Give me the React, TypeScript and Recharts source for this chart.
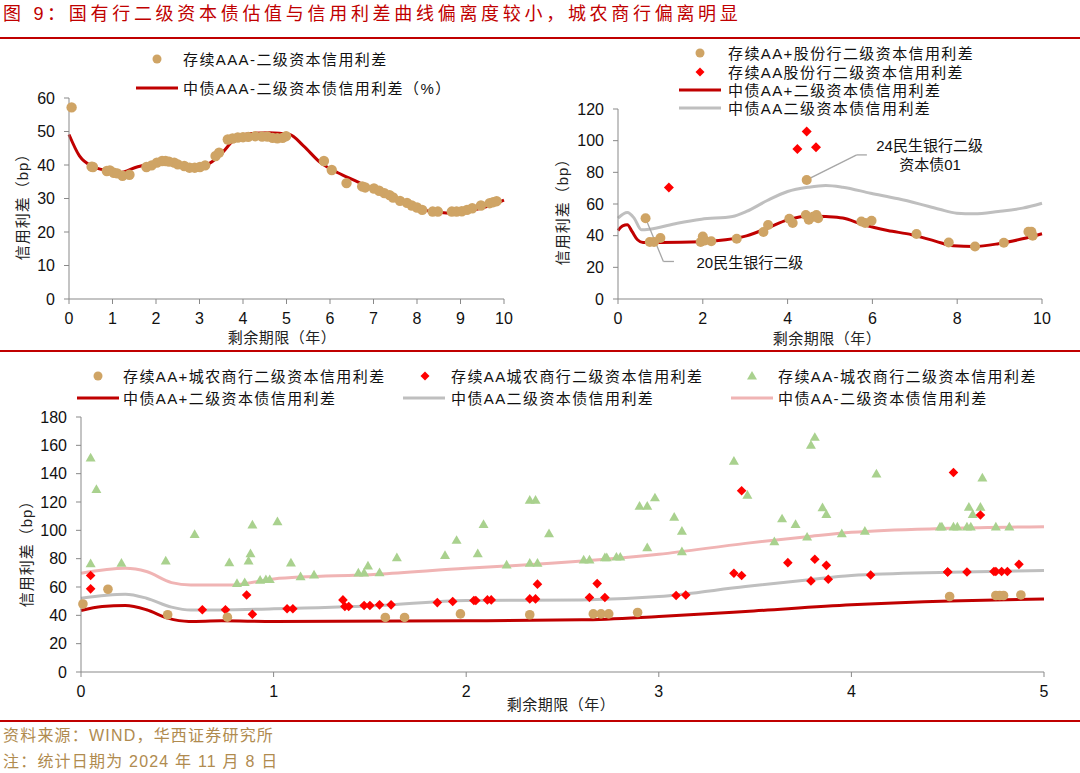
import React from "react"
import { ComposedChart, Line, Scatter, XAxis, YAxis, ReferenceLine, ReferenceDot } from "recharts"

type Pair = [number, number]

// 图一：国有行（AAA-）
const aaaCurve: Pair[] = [
  [0, 49.1], [0.24, 42.7], [0.52, 39.7], [0.95, 38.2], [1.15, 37.7], [1.58, 39.5], [1.82, 40.2],
  [2.14, 41.5], [2.46, 40.7], [2.85, 39.7], [3.17, 40.2], [3.49, 43.2], [3.8, 47.6], [4.12, 49.3],
  [4.6, 49.6], [5.07, 49.1], [5.39, 45.7], [5.78, 40.7], [6.18, 37.7], [6.66, 34.8], [7.13, 31.6],
  [7.6, 28.9], [8.0, 26.9], [8.4, 26.1], [8.72, 25.7], [9.11, 26.1], [9.51, 27.2], [10, 29.5],
]
const aaaBonds: Pair[] = [
  [0.06, 57.2], [0.52, 39.5], [0.55, 39.4], [0.87, 38.2], [0.94, 38.4], [1.03, 37.7], [1.11, 37.5],
  [1.23, 36.8], [1.39, 37.1], [1.78, 39.4], [1.9, 39.9], [2.02, 40.7], [2.14, 41.2], [2.22, 41.2],
  [2.3, 41], [2.42, 40.7], [2.5, 40.2], [2.65, 39.7], [2.77, 39.2], [2.89, 39.2], [3.01, 39.4],
  [3.13, 39.9], [3.37, 42.7], [3.45, 43.7], [3.65, 47.6], [3.76, 47.9], [3.88, 48.2], [4.0, 48.3],
  [4.12, 48.4], [4.28, 48.6], [4.44, 48.5], [4.56, 48.5], [4.68, 48.1], [4.79, 48], [4.91, 48.1],
  [4.99, 48.6], [5.86, 41.2], [6.04, 38.5], [6.38, 34.6], [6.74, 33.6], [6.81, 33.3], [7.01, 33],
  [7.13, 32.3], [7.25, 31.6], [7.37, 31], [7.45, 30.3], [7.61, 29.3], [7.77, 28.7], [7.88, 27.9],
  [8.0, 27.3], [8.12, 26.6], [8.36, 26.1], [8.48, 26.1], [8.8, 26.1], [8.91, 26.1], [9.03, 26.2],
  [9.15, 26.6], [9.27, 27.1], [9.47, 27.9], [9.67, 28.6], [9.75, 28.9], [9.83, 29.2],
]

// 图二：股份行
const jointAAPlusCurve: Pair[] = [
  [0, 43.3], [0.11, 46.2], [0.22, 46.9], [0.33, 42.7], [0.46, 37.4], [0.59, 35.7], [1.0, 35.7],
  [1.97, 36.1], [2.54, 37.4], [3.03, 39.9], [3.52, 44.8], [4.0, 50], [4.49, 52.5], [4.9, 52.1],
  [5.3, 51.1], [5.79, 46.9], [6.36, 43.3], [6.93, 40.6], [7.5, 36.4], [7.91, 33.6], [8.4, 33.2],
  [8.97, 34.9], [9.54, 38], [10, 41.2],
]
const jointAACurve: Pair[] = [
  [0, 51.1], [0.22, 54.6], [0.38, 51.1], [0.55, 43.7], [0.75, 44.1], [1.4, 47.9], [1.97, 50.4],
  [2.7, 52.1], [3.03, 55.3], [3.52, 62.2], [4.0, 67.9], [4.49, 70.6], [4.9, 71.7], [5.3, 70.6],
  [5.96, 66.8], [6.61, 63.3], [7.1, 60.1], [7.58, 56.7], [7.99, 54.2], [8.4, 53.8], [8.97, 55.3],
  [9.54, 57.4], [10, 60.5],
]
const jointAAPlusBonds: Pair[] = [
  [0.65, 51], [0.75, 36], [0.85, 36], [1.0, 38.5], [1.95, 36], [2.0, 39.5], [2.05, 37], [2.2, 36.5],
  [2.8, 38], [3.43, 42.3], [3.54, 46.7], [4.04, 50.7], [4.12, 48], [4.45, 75.2], [4.43, 53],
  [4.5, 50], [4.6, 52], [4.68, 53], [4.72, 51], [5.74, 49], [5.83, 48], [5.98, 49.4], [7.04, 41],
  [7.8, 35.7], [8.42, 33.2], [9.1, 35.5], [9.68, 42.5], [9.75, 42.5], [9.78, 40],
]
const jointAABonds: Pair[] = [[1.2, 70.4], [4.23, 94.8], [4.45, 105.8], [4.67, 95.9]]

// 图三：城农商行
const ruralAAPlusCurve: Pair[] = [
  [0, 43.4], [0.11, 46.2], [0.23, 46.9], [0.34, 43.9], [0.45, 38], [0.56, 35.7], [0.73, 36.1],
  [1.0, 35.7], [2.0, 36.1], [2.6, 36.8], [3.0, 39.2], [3.45, 42.7], [4.0, 47.4], [4.51, 50.2], [5.0, 51.6],
]
const ruralAACurve: Pair[] = [
  [0, 52.1], [0.23, 54.9], [0.34, 52.1], [0.47, 45.8], [0.57, 43.7], [1.0, 44.6], [1.54, 46.9],
  [2.0, 50.5], [2.6, 50.9], [3.0, 53.3], [3.45, 60.3], [3.77, 65], [4.0, 68.1], [4.51, 70.4], [5.0, 71.6],
]
const ruralAAMinusCurve: Pair[] = [
  [0, 69.7], [0.23, 73.2], [0.34, 70.9], [0.47, 63.1], [0.57, 61.5], [0.79, 61.5], [1.0, 65.7],
  [1.54, 69], [2.0, 73.2], [2.36, 76], [3.0, 83.1], [3.45, 90.8], [3.77, 95.5], [4.0, 98.6],
  [4.51, 101.4], [5.0, 102.6],
]
const ruralAAPlusBonds: Pair[] = [
  [0.01, 48], [0.14, 58.4], [0.45, 40.4], [0.76, 38.7], [1.58, 38.5], [1.68, 38.5], [1.97, 41],
  [2.33, 40.4], [2.66, 41], [2.7, 41], [2.74, 41], [2.89, 42], [4.51, 53.3], [4.75, 54], [4.77, 54],
  [4.79, 54], [4.88, 54.4],
]
const ruralAABonds: Pair[] = [
  [0.05, 68.1], [0.05, 58.7], [0.63, 43.9], [0.75, 43.9], [0.86, 54.4], [0.89, 40.8], [1.07, 44.6],
  [1.1, 44.6], [1.36, 50.9], [1.37, 46.2], [1.39, 46.2], [1.47, 46.9], [1.5, 46.9], [1.55, 47.4],
  [1.61, 47.4], [1.85, 49], [1.93, 49.8], [2.04, 50.5], [2.05, 50.5], [2.11, 50.9], [2.13, 50.9],
  [2.33, 51.6], [2.36, 51.6], [2.37, 62], [2.64, 52.6], [2.68, 62.4], [2.72, 52.6], [3.09, 54],
  [3.14, 54.4], [3.39, 69.7], [3.43, 68.1], [3.43, 127.9], [3.67, 77.2], [3.79, 64.3], [3.81, 79.6],
  [3.87, 75.3], [3.88, 65.5], [4.1, 68.5], [4.5, 70.6], [4.5, 70.6], [4.53, 140.8], [4.6, 70.6],
  [4.67, 110.8], [4.74, 70.9], [4.75, 70.9], [4.78, 70.9], [4.81, 70.9], [4.87, 76],
]
const ruralAAMinusBonds: Pair[] = [
  [0.05, 76], [0.05, 150.7], [0.08, 128.4], [0.21, 76.3], [0.44, 77.9], [0.59, 96.7], [0.77, 76.7],
  [0.81, 62], [0.85, 62.7], [0.87, 77.9], [0.88, 83], [0.89, 103.3], [0.93, 64.3], [0.96, 64.8],
  [0.98, 64.8], [1.02, 105.6], [1.09, 76.5], [1.14, 66.9], [1.21, 68.1], [1.44, 69.5], [1.47, 69.5],
  [1.49, 74.4], [1.55, 69.7], [1.64, 80.3], [1.89, 81.9], [1.95, 92.5], [2.06, 83.1], [2.09, 103.7],
  [2.21, 75.1], [2.33, 120.9], [2.36, 120.9], [2.33, 76.3], [2.37, 76.3], [2.43, 97.2], [2.61, 78.6],
  [2.64, 78.6], [2.72, 80.3], [2.73, 80.3], [2.78, 80.7], [2.8, 80.7], [2.9, 116.6], [2.94, 116.6],
  [2.98, 122.5], [2.94, 87.3], [3.08, 108.9], [3.12, 99], [3.12, 84.5], [3.39, 148.3], [3.46, 124.4],
  [3.6, 91.5], [3.64, 107.7], [3.71, 103.7], [3.77, 94.8], [3.79, 159.6], [3.81, 165.2], [3.85, 115.5],
  [3.87, 110.8], [3.95, 97.2], [4.07, 99], [4.13, 139.4], [4.46, 101.9], [4.47, 101.9], [4.53, 101.9],
  [4.55, 101.9], [4.61, 115.9], [4.6, 101.9], [4.62, 101.9], [4.63, 110.8], [4.67, 115.9],
  [4.68, 136.6], [4.75, 101.9], [4.82, 101.9],
]

const ticks10 = [0, 1, 2, 3, 4, 5, 6, 7, 8, 9, 10]
const ticksEven10 = [0, 2, 4, 6, 8, 10]
const ticks5 = [0, 1, 2, 3, 4, 5]
const yTicksA = [0, 10, 20, 30, 40, 50, 60]
const yTicksB = [0, 20, 40, 60, 80, 100, 120]
const yTicksC = [0, 20, 40, 60, 80, 100, 120, 140, 160, 180]

const TAN = "#CFA465"
const RED_LINE = "#C00000"
const GRAY_LINE = "#BFBFBF"
const PINK_LINE = "#F0B4B4"
const RED_DOT = "#FF0000"
const GREEN = "#A9D18E"
const AXIS = "#898989"
const CALLOUT = "#A6A6A6"
const NUM_FONT = "'Liberation Sans', Arial, sans-serif"
const CJK_FONT = "'Liberation Sans', 'Noto Sans CJK SC', sans-serif"

const toPts = (a: Pair[]) => a.map(([x, y]) => ({ x, y }))

const circle = (color: string, r: number) => (p: any) => <circle cx={p.cx} cy={p.cy} r={r} fill={color} />
const diamond = (color: string, s: number) => (p: any) => (
  <path d={`M${p.cx},${p.cy - s}L${p.cx + s},${p.cy}L${p.cx},${p.cy + s}L${p.cx - s},${p.cy}Z`} fill={color} />
)
const triangle = (color: string, w: number) => (p: any) => {
  const h = w * 0.87
  return <path d={`M${p.cx},${p.cy - (2 * h) / 3}L${p.cx + w / 2},${p.cy + h / 3}L${p.cx - w / 2},${p.cy + h / 3}Z`} fill={color} />
}

const tickStyle = { fill: "#111", fontSize: 16, fontFamily: NUM_FONT }

const axisProps = {
  tickSize: 5,
  tickMargin: 9,
  stroke: AXIS,
  tick: tickStyle,
  interval: 0 as const,
}

const curve = (data: Pair[], color: string) => (
  <Line data={toPts(data)} dataKey="y" type="monotone" stroke={color} strokeWidth={3} dot={false} activeDot={false} isAnimationActive={false} />
)

const legendText = { fontSize: 15, letterSpacing: 1.4, fontFamily: CJK_FONT, fill: "#111" }

const LegendMark = ({ kind, color, x, y }: { kind: string; color: string; x: number; y: number }) => {
  if (kind === "circle") return <circle cx={x} cy={y} r={4.5} fill={color} />
  if (kind === "diamond") return <path d={`M${x},${y - 4.5}L${x + 4.5},${y}L${x},${y + 4.5}L${x - 4.5},${y}Z`} fill={color} />
  if (kind === "triangle") return <path d={`M${x},${y - 5}L${x + 5},${y + 3.5}L${x - 5},${y + 3.5}Z`} fill={color} />
  return <line x1={x - 21} x2={x + 21} y1={y} y2={y} stroke={color} strokeWidth={3} />
}

const legends = [
  { kind: "circle", color: TAN, x: 157, y: 59, tx: 183, label: "存续AAA-二级资本信用利差" },
  { kind: "line", color: RED_LINE, x: 157, y: 88, tx: 183, label: "中债AAA-二级资本债信用利差（%）" },
  { kind: "circle", color: TAN, x: 700, y: 53, tx: 728, label: "存续AA+股份行二级资本信用利差" },
  { kind: "diamond", color: RED_DOT, x: 700, y: 72, tx: 728, label: "存续AA股份行二级资本信用利差" },
  { kind: "line", color: RED_LINE, x: 700, y: 90, tx: 728, label: "中债AA+二级资本债信用利差" },
  { kind: "line", color: GRAY_LINE, x: 700, y: 108, tx: 728, label: "中债AA二级资本债信用利差" },
  { kind: "circle", color: TAN, x: 98, y: 376, tx: 123, label: "存续AA+城农商行二级资本信用利差" },
  { kind: "diamond", color: RED_DOT, x: 425, y: 376, tx: 451, label: "存续AA城农商行二级资本信用利差" },
  { kind: "triangle", color: GREEN, x: 752, y: 376, tx: 778, label: "存续AA-城农商行二级资本信用利差" },
  { kind: "line", color: RED_LINE, x: 98, y: 398, tx: 123, label: "中债AA+二级资本债信用利差" },
  { kind: "line", color: GRAY_LINE, x: 424, y: 398, tx: 451, label: "中债AA二级资本债信用利差" },
  { kind: "line", color: PINK_LINE, x: 752, y: 398, tx: 778, label: "中债AA-二级资本债信用利差" },
]

const Overlay = () => (
  <svg width={1080} height={773} style={{ position: "absolute", left: 0, top: 0 }}>
    <text x={3} y={14} dominantBaseline="central" fontSize={18} letterSpacing={3.7} fill="#C00000" fontFamily={CJK_FONT}>
      图 9：国有行二级资本债估值与信用利差曲线偏离度较小，城农商行偏离明显
    </text>
    <rect x={0} y={37} width={1080} height={2} fill="#C00000" />
    <rect x={0} y={350} width={1080} height={2} fill="#C00000" />
    <rect x={0} y={720} width={1080} height={2} fill="#C00000" />
    {legends.map((l, i) => (
      <g key={i}>
        <LegendMark kind={l.kind} color={l.color} x={l.x} y={l.y} />
        <text x={l.tx} y={l.y} dominantBaseline="central" {...legendText}>{l.label}</text>
      </g>
    ))}
    {[
      { x: 22, y: 203 },
      { x: 562, y: 208 },
      { x: 26, y: 550 },
    ].map((p, i) => (
      <text key={i} x={p.x} y={p.y} transform={`rotate(-90 ${p.x} ${p.y})`} textAnchor="middle" dominantBaseline="central" fontSize={15} letterSpacing={1} fill="#222" fontFamily={CJK_FONT}>
        信用利差（bp）
      </text>
    ))}
    {[
      { x: 282, y: 337 },
      { x: 827, y: 338 },
      { x: 561, y: 704 },
    ].map((p, i) => (
      <text key={i} x={p.x} y={p.y} textAnchor="middle" dominantBaseline="central" fontSize={15} letterSpacing={0.5} fill="#222" fontFamily={CJK_FONT}>
        剩余期限（年）
      </text>
    ))}
    <text x={3} y={735} dominantBaseline="central" fontSize={16} letterSpacing={1.2} fill="#B08B4F" fontFamily={CJK_FONT}>
      资料来源：WIND，华西证券研究所
    </text>
    <text x={3} y={761} dominantBaseline="central" fontSize={16} letterSpacing={1.2} fill="#B08B4F" fontFamily={CJK_FONT}>
      注：统计日期为 2024 年 11 月 8 日
    </text>
  </svg>
)

const calloutText = { fontSize: 15, fill: "#111", fontFamily: CJK_FONT }

const App = () => (
  <div style={{ position: "absolute", left: 0, top: 0, width: 1080, height: 773, background: "#fff", overflow: "hidden" }}>
    <Overlay />
    <div style={{ position: "absolute", left: 0, top: 80 }}>
      <ComposedChart width={530} height={270} margin={{ top: 18, right: 26, bottom: 0, left: 0 }}>
        <XAxis type="number" dataKey="x" domain={[0, 10]} ticks={ticks10} height={51} {...axisProps} />
        <YAxis type="number" dataKey="y" domain={[0, 60]} ticks={yTicksA} width={69} {...axisProps} />
        {curve(aaaCurve, RED_LINE)}
        <Scatter data={toPts(aaaBonds)} fill={TAN} shape={circle(TAN, 5.2)} isAnimationActive={false} />
      </ComposedChart>
    </div>
    <div style={{ position: "absolute", left: 540, top: 90 }}>
      <ComposedChart width={540} height={260} margin={{ top: 19, right: 38, bottom: 0, left: 0 }}>
        <XAxis type="number" dataKey="x" domain={[0, 10]} ticks={ticksEven10} height={51} {...axisProps} />
        <YAxis type="number" dataKey="y" domain={[0, 120]} ticks={yTicksB} width={78} {...axisProps} />
        {curve(jointAACurve, GRAY_LINE)}
        {curve(jointAAPlusCurve, RED_LINE)}
        <ReferenceLine segment={[{ x: 4.45, y: 75.2 }, { x: 5.63, y: 91 }]} stroke={CALLOUT} strokeWidth={1.3} />
        <ReferenceLine segment={[{ x: 5.63, y: 91 }, { x: 5.87, y: 91 }]} stroke={CALLOUT} strokeWidth={1.3} />
        <ReferenceLine segment={[{ x: 0.65, y: 51 }, { x: 1.07, y: 23.7 }]} stroke={CALLOUT} strokeWidth={1.3} />
        <ReferenceLine segment={[{ x: 1.07, y: 23.7 }, { x: 1.32, y: 23.7 }]} stroke={CALLOUT} strokeWidth={1.3} />
        <Scatter data={toPts(jointAAPlusBonds)} fill={TAN} shape={circle(TAN, 5)} isAnimationActive={false} />
        <Scatter data={toPts(jointAABonds)} fill={RED_DOT} shape={diamond(RED_DOT, 5)} isAnimationActive={false} />
        <ReferenceDot x={7.35} y={96.7} r={0} fill="none" stroke="none" label={{ value: "24民生银行二级", position: "center", ...calloutText }} />
        <ReferenceDot x={7.36} y={84.7} r={0} fill="none" stroke="none" label={{ value: "资本债01", position: "center", ...calloutText }} />
        <ReferenceDot x={3.11} y={23.1} r={0} fill="none" stroke="none" label={{ value: "20民生银行二级", position: "center", ...calloutText }} />
      </ComposedChart>
    </div>
    <div style={{ position: "absolute", left: 0, top: 400 }}>
      <ComposedChart width={1080} height={320} margin={{ top: 17, right: 36, bottom: 0, left: 0 }}>
        <XAxis type="number" dataKey="x" domain={[0, 5]} ticks={ticks5} height={48} {...axisProps} />
        <YAxis type="number" dataKey="y" domain={[0, 180]} ticks={yTicksC} width={81} {...axisProps} />
        {curve(ruralAAMinusCurve, PINK_LINE)}
        {curve(ruralAACurve, GRAY_LINE)}
        {curve(ruralAAPlusCurve, RED_LINE)}
        <Scatter data={toPts(ruralAAMinusBonds)} fill={GREEN} shape={triangle(GREEN, 10)} isAnimationActive={false} />
        <Scatter data={toPts(ruralAABonds)} fill={RED_DOT} shape={diamond(RED_DOT, 4.8)} isAnimationActive={false} />
        <Scatter data={toPts(ruralAAPlusBonds)} fill={TAN} shape={circle(TAN, 4.8)} isAnimationActive={false} />
      </ComposedChart>
    </div>
  </div>
)

export default App
